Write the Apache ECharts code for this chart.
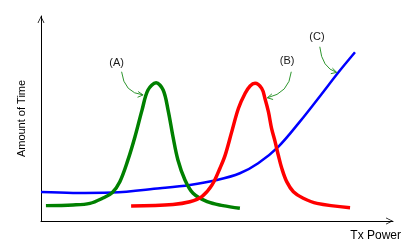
<!DOCTYPE html>
<html>
<head>
<meta charset="utf-8">
<script src="https://cdn.jsdelivr.net/npm/echarts@6/dist/echarts.min.js"></script>
<style>html,body{margin:0;padding:0;background:#fff}#c{width:409px;height:249px}</style>
</head>
<body>
<div id="c"></div>
<script>
// Axis titles
var xAxisName = 'Tx Power';
var yAxisName = 'Amount of Time';

// Curve (A) - green
var curveA = [[1.4,7.5],[9.1,7.8],[13.9,8.6],[17.6,11.2],[20.2,13.8],[22.4,19.2],[24.7,29.8],[26.7,41.1],[28.7,54.1],[30.4,63.9],[32.7,67.4],[34.7,63.9],[36.1,54.1],[37.5,41.1],[38.9,29.8],[40.9,20.0],[43.2,13.5],[47.2,9.4],[51.7,7.5],[56.5,6.2]];
// Curve (B) - red
var curveB = [[25.6,7.3],[37.5,8.1],[42.3,9.4],[45.7,11.9],[48.6,17.6],[50.9,26.0],[52.3,32.0],[54.2,43.6],[56.1,55.0],[58.0,62.3],[59.4,65.9],[60.8,67.2],[62.7,64.7],[63.6,59.9],[64.6,53.3],[65.5,45.2],[66.5,38.7],[67.4,32.2],[68.4,25.7],[69.8,19.2],[71.7,14.3],[74.5,11.1],[78.4,8.6],[87.8,6.5]];
// Curve (C) - blue
var curveC = [[0,14.1],[9.1,13.7],[20.2,13.9],[33.8,16.0],[42.3,17.6],[50.0,20.0],[56.5,23.3],[61.7,28.2],[67.4,36.2],[73.6,48.6],[79.3,61.0],[84.4,72.3],[89.2,82.3]];

// Annotations
var noteLabels = ['(A)', '(B)', '(C)'];
var noteText = [[21.5,77.2],[69.9,78.0],[78.4,89.9]];
var noteArrowStart = [[22.9,72.8],[71.1,72.8],[79.2,85.0]];
var noteArrowCtrl = [[23.6,62.4],[70.5,62.4],[79.8,74.6]];
var noteArrowEnd = [[29.0,61.5],[64.3,60.1],[84.0,72.5]];

var FONT = '"Liberation Sans", Arial, sans-serif';
var chevron = 'path://M0,10 L5,0 L10,10 L8.8,10 L5,2.2 L1.2,10 Z';

var chart = echarts.init(document.getElementById('c'), null, {renderer: 'canvas'});

function renderNote(params, api) {
  var i = params.dataIndex;
  var t = api.coord(noteText[i]);
  var s = api.coord(noteArrowStart[i]);
  var c = api.coord(noteArrowCtrl[i]);
  var e = api.coord(noteArrowEnd[i]);
  var ang = Math.atan2(e[1] - c[1], e[0] - c[0]);
  var L = 6, a = 0.5;
  var p1 = [e[0] - L * Math.cos(ang - a), e[1] - L * Math.sin(ang - a)];
  var p2 = [e[0] - L * Math.cos(ang + a), e[1] - L * Math.sin(ang + a)];
  return {
    type: 'group',
    children: [
      {type: 'bezierCurve', shape: {x1: s[0], y1: s[1], cpx1: c[0], cpy1: c[1], x2: e[0], y2: e[1]},
        style: {stroke: '#2f962f', fill: 'none', lineWidth: 1}},
      {type: 'polyline', shape: {points: [p1, e, p2]}, style: {stroke: '#2f962f', fill: 'none', lineWidth: 1}},
      {type: 'text', style: {text: noteLabels[i], x: t[0], y: t[1], align: 'center', verticalAlign: 'middle',
        font: '11px ' + FONT, fill: '#1a1a1a'}}
    ]
  };
}

chart.setOption({
  animation: false,
  backgroundColor: '#fff',
  grid: {left: 41, right: 16, top: 16, bottom: 28, containLabel: false},
  xAxis: {
    type: 'value', min: 0, max: 100,
    name: xAxisName, nameLocation: 'end', nameGap: 8,
    nameTextStyle: {fontFamily: FONT, fontSize: 12, color: '#000', align: 'right', verticalAlign: 'top', padding: [9, 0, 0, 0]},
    axisLine: {show: true, lineStyle: {color: '#000', width: 1}, symbol: ['none', chevron], symbolSize: [8, 7], symbolOffset: [0, -3.5]},
    axisTick: {show: false}, axisLabel: {show: false}, splitLine: {show: false}
  },
  yAxis: {
    type: 'value', min: 0, max: 100,
    name: yAxisName, nameLocation: 'middle', nameGap: 14,
    nameTextStyle: {fontFamily: FONT, fontSize: 11, color: '#000'},
    axisLine: {show: true, lineStyle: {color: '#000', width: 1}, symbol: ['none', chevron], symbolSize: [8, 7], symbolOffset: [0, -3.5]},
    axisTick: {show: false}, axisLabel: {show: false}, splitLine: {show: false}
  },
  series: [
    {type: 'line', data: curveC, smooth: 0.35, showSymbol: false, lineStyle: {color: '#0000ff', width: 2.5}, z: 2},
    {type: 'line', data: curveA, smooth: 0.35, showSymbol: false, lineStyle: {color: '#008000', width: 3.5}, z: 3},
    {type: 'line', data: curveB, smooth: 0.35, showSymbol: false, lineStyle: {color: '#ff0000', width: 3.5}, z: 4},
    {type: 'custom', coordinateSystem: 'cartesian2d', data: noteText, renderItem: renderNote, z: 5, silent: true}
  ]
});
</script>
</body>
</html>
